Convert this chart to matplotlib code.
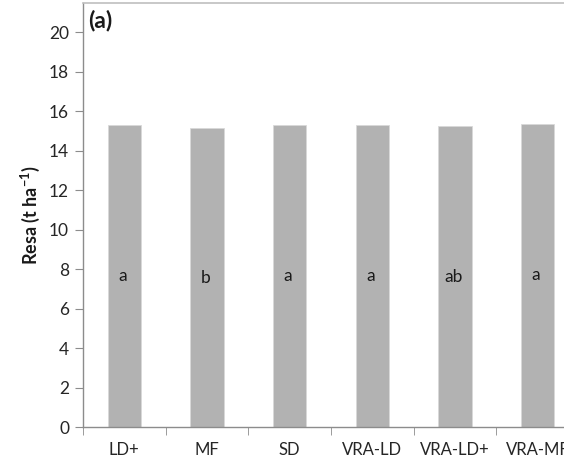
import matplotlib
matplotlib.use("Agg")
import matplotlib.pyplot as plt
import numpy as np

categories = ["LD+", "MF", "SD", "VRA-LD", "VRA-LD+", "VRA-MF"]
values = [15.28, 15.12, 15.28, 15.31, 15.23, 15.36]
letters = ["a", "b", "a", "a", "ab", "a"]
yticks = [0, 2, 4, 6, 8, 10, 12, 14, 16, 18, 20]

plt.rcParams['font.family'] = ['Lato', 'DejaVu Sans']
plt.rcParams['mathtext.default'] = 'regular'

fig = plt.figure(figsize=(5.64, 4.62), dpi=100)
ax = fig.add_axes([83/564, 35/462, (579-83)/564, (427-3)/462])

x = np.arange(len(categories))
ax.bar(x, values, width=0.4, color='#b2b2b2', edgecolor='#d9d9d9', linewidth=0.6, zorder=2)
for xi, v, l in zip(x, values, letters):
    ax.text(xi - 0.02, v / 2, l, ha='center', va='center', fontsize=12.5, color='#1a1a1a')

ax.set_xlim(-0.5, len(categories) - 0.5)
ax.set_ylim(0, 21.47)
ax.set_yticks(yticks)
ax.set_yticklabels([str(t) for t in yticks], fontsize=12.5, color='#262626')
ax.set_xticks(x)
ax.set_xticklabels(categories, fontsize=12, color='#262626')
ax.set_xticks(np.arange(-0.5, len(categories) + 0.5, 1), minor=True)
ax.tick_params(axis='x', which='major', length=0, pad=11)
ax.tick_params(axis='x', which='minor', length=6, color='#8c8c8c', direction='out')
ax.tick_params(axis='y', length=6, color='#8c8c8c', direction='out', pad=4)

for s in ['left', 'bottom']:
    ax.spines[s].set_color('#8c8c8c')
    ax.spines[s].set_linewidth(1.0)
ax.spines['top'].set_color('#bfbfbf')
ax.spines['top'].set_linewidth(1.2)
ax.spines['right'].set_visible(False)

ax.set_ylabel("Resa (t ha$^{-1}$)", fontsize=13, fontweight='bold', color='#1a1a1a', labelpad=5)
ax.text(0.01, 0.985, "(a)", transform=ax.transAxes, fontsize=16.5, fontweight='bold', ha='left', va='top', color='#1a1a1a')

fig.savefig("out.png", dpi=100)
